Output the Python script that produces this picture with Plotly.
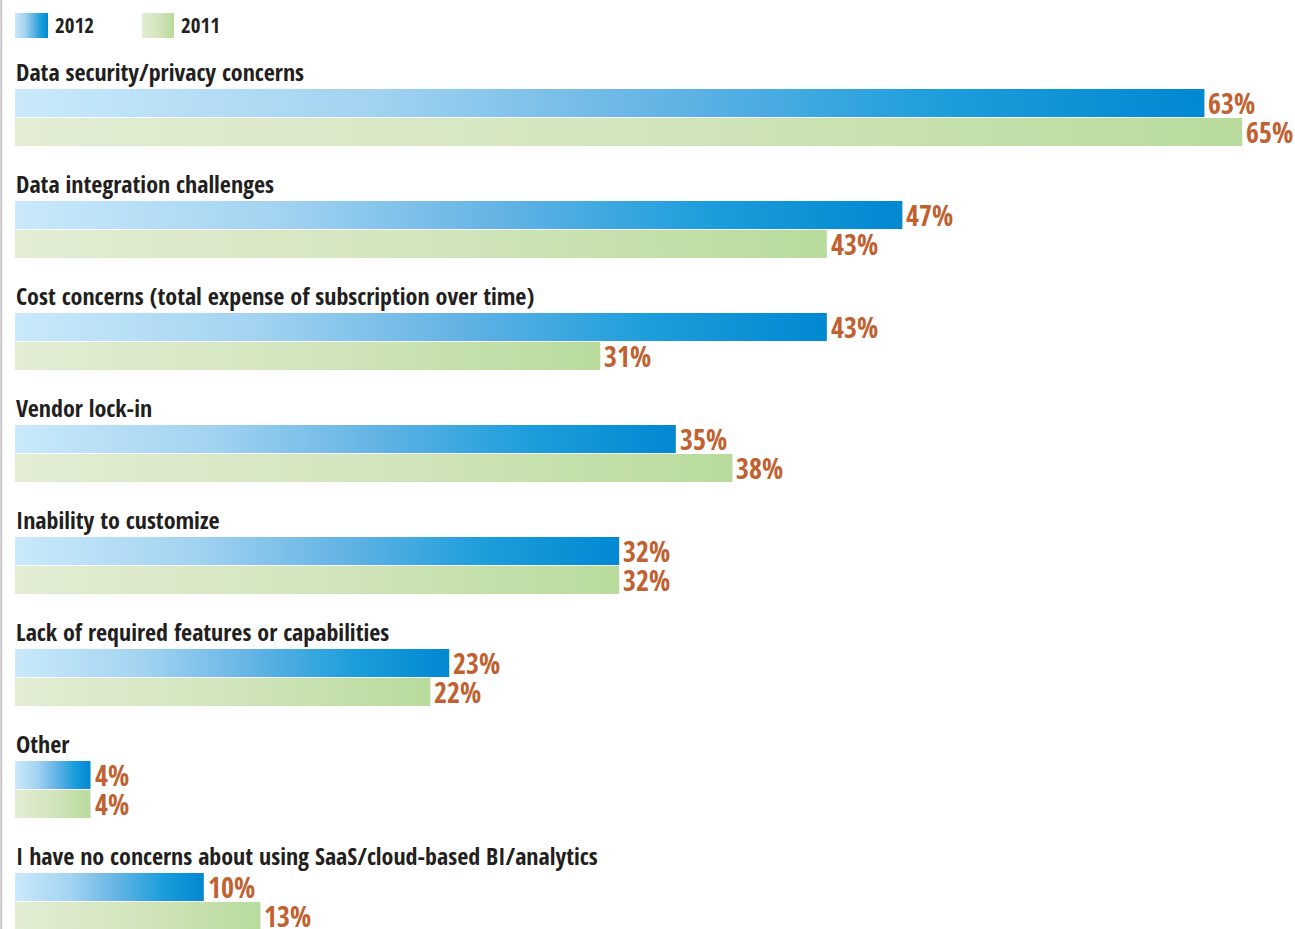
import plotly.graph_objects as go

# Survey responses: concerns about SaaS/cloud-based BI/analytics (% of respondents)
categories = [
    "Data security/privacy concerns",
    "Data integration challenges",
    "Cost concerns (total expense of subscription over time)",
    "Vendor lock-in",
    "Inability to customize",
    "Lack of required features or capabilities",
    "Other",
    "I have no concerns about using SaaS/cloud-based BI/analytics",
]
values_2012 = [63, 47, 43, 35, 32, 23, 4, 10]
values_2011 = [65, 43, 31, 38, 32, 22, 4, 13]
series_names = ["2012", "2011"]

# ---- layout constants ----
W, H = 1295, 929
X0_PX = 15.0          # pixel where 0% sits
PX_PER_PCT = 18.88    # pixels per percentage point
Y0_PX = 103.0         # pixel centre of the first 2012 bar
GROUP_PX = 112.0      # pixel pitch between category groups

BAR_H = 28.0 / GROUP_PX
OFF_2012 = 0.0
OFF_2011 = 29.0 / GROUP_PX
OFF_LABEL = -32.0 / GROUP_PX

BLUE_SCALE = [[0.0, "#c9e9fa"], [0.3, "#a2d3f1"], [0.55, "#62b3e4"],
              [0.78, "#1c9edb"], [1.0, "#0088d1"]]
GREEN_SCALE = [[0.0, "#e2edd4"], [0.5, "#d2e5bd"], [1.0, "#b8db9c"]]
VALUE_COLOR = "#c0612f"
TEXT_COLOR = "#231f20"
FONT = "'Open Sans Condensed', 'Roboto Condensed', 'DejaVu Sans Condensed', sans-serif"


def px_to_x(px):
    return (px - X0_PX) / PX_PER_PCT


def px_to_y(px):
    return (px - Y0_PX) / GROUP_PX


def bar_trace(x_end, y_center, scale, x_start=0.0):
    y_top = y_center - BAR_H / 2
    y_bot = y_center + BAR_H / 2
    return go.Scatter(
        x=[x_start, x_end, x_end, x_start, x_start],
        y=[y_top, y_top, y_bot, y_bot, y_top],
        mode="lines",
        line=dict(width=0),
        fill="toself",
        fillgradient=dict(type="horizontal", colorscale=scale),
        hoverinfo="skip",
        showlegend=False,
    )


fig = go.Figure()
annotations = []

for i, (cat, v12, v11) in enumerate(zip(categories, values_2012, values_2011)):
    for val, off, scale in ((v12, OFF_2012, BLUE_SCALE), (v11, OFF_2011, GREEN_SCALE)):
        fig.add_trace(bar_trace(val, i + off, scale))
        annotations.append(dict(
            x=val, y=i + off, xref="x", yref="y",
            text=f"{val}%", showarrow=False,
            xanchor="left", yanchor="middle", xshift=3, yshift=1,
            height=27, valign="middle", borderpad=0,
            font=dict(family=FONT, size=28, color=VALUE_COLOR, weight="bold"),
        ))
    annotations.append(dict(
        x=px_to_x(14), y=i + OFF_LABEL, xref="x", yref="y",
        text=cat, showarrow=False,
        xanchor="left", yanchor="middle",
        font=dict(family=FONT, size=24, color=TEXT_COLOR, weight="bold"),
    ))

# Legend with gradient swatches
legend_y = px_to_y(25.5)
swatch_h = 25.0 / GROUP_PX
for name, scale, sx0, sx1, tx in ((series_names[0], BLUE_SCALE, 15, 48, 53),
                                   (series_names[1], GREEN_SCALE, 142, 174, 179)):
    x0, x1 = px_to_x(sx0), px_to_x(sx1)
    fig.add_trace(go.Scatter(
        x=[x0, x1, x1, x0, x0],
        y=[legend_y - swatch_h / 2] * 2 + [legend_y + swatch_h / 2] * 2 + [legend_y - swatch_h / 2],
        mode="lines", line=dict(width=0), fill="toself",
        fillgradient=dict(type="horizontal", colorscale=scale),
        hoverinfo="skip", showlegend=False,
    ))
    annotations.append(dict(
        x=px_to_x(tx), y=legend_y, xref="x", yref="y",
        text=name, showarrow=False, xanchor="left", yanchor="middle", yshift=1,
        font=dict(family=FONT, size=21, color=TEXT_COLOR, weight="bold"),
    ))

fig.update_layout(
    width=W, height=H,
    margin=dict(l=0, r=0, t=0, b=0),
    paper_bgcolor="white", plot_bgcolor="white",
    showlegend=False,
    annotations=annotations,
    shapes=[dict(type="line", xref="paper", yref="paper", x0=0.001, x1=0.001,
                 y0=0, y1=1, line=dict(color="#c6c6ca", width=2))],
    xaxis=dict(range=[px_to_x(0), px_to_x(W)], visible=False, fixedrange=True),
    yaxis=dict(range=[px_to_y(H), px_to_y(0)], visible=False, fixedrange=True),
)

fig.write_html("out.html")
